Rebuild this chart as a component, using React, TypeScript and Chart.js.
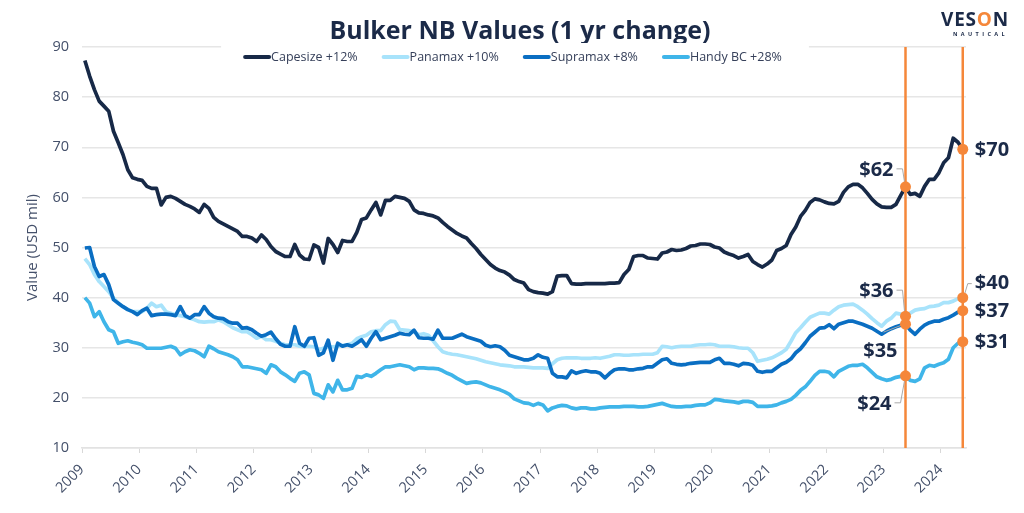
import React, { useEffect, useRef } from "react";
import { Chart, registerables } from "chart.js";

Chart.register(...registerables);

// ---------------- DATA ----------------
const years = [2009, 2010, 2011, 2012, 2013, 2014, 2015, 2016, 2017, 2018, 2019, 2020, 2021, 2022, 2023, 2024];

const seriesNames = ["Capesize +12%", "Panamax +10%", "Supramax +8%", "Handy BC +28%"];

// monthly values (USD mil), Jan 2009 .. May 2024
const capesize = [
  87.3, 84.2, 81.5, 79.2, 78.2, 77.2, 73.2, 70.9, 68.5, 65.5, 63.9, 63.6,
  63.4, 62.2, 61.8, 61.8, 58.5, 60.0, 60.2, 59.8, 59.2, 58.6, 58.2, 57.7,
  57.0, 58.6, 57.8, 56.0, 55.2, 54.7, 54.2, 53.7, 53.2, 52.2, 52.2, 51.9,
  51.2, 52.5, 51.6, 50.2, 49.2, 48.7, 48.2, 48.2, 50.6, 48.5, 47.7, 47.6,
  50.5, 50.0, 46.9, 51.8, 50.6, 49.0, 51.4, 51.2, 51.2, 53.0, 55.6, 55.9,
  57.5, 59.0, 56.5, 59.4, 59.4, 60.2, 60.0, 59.8, 59.2, 57.5, 56.9, 56.8,
  56.5, 56.3, 55.9, 55.0, 54.2, 53.5, 52.8, 52.3, 51.9, 50.8, 49.8, 48.6,
  47.6, 46.6, 45.9, 45.4, 45.1, 44.5, 43.6, 43.2, 42.9, 41.6, 41.2, 41.0,
  40.9, 40.7, 41.2, 44.3, 44.4, 44.4, 42.8, 42.7, 42.7, 42.8, 42.8, 42.8,
  42.8, 42.8, 42.9, 42.9, 43.0, 44.6, 45.6, 48.2, 48.4, 48.4, 47.9, 47.8,
  47.7, 48.9, 49.1, 49.6, 49.4, 49.5, 49.8, 50.3, 50.4, 50.7, 50.7, 50.6,
  50.1, 49.9, 49.1, 48.7, 48.4, 47.9, 48.2, 48.6, 47.2, 46.6, 46.1, 46.7,
  47.5, 49.4, 49.8, 50.4, 52.6, 54.1, 56.2, 57.4, 59.0, 59.7, 59.5, 59.1,
  58.8, 58.7, 59.2, 61.0, 62.1, 62.6, 62.6, 61.9, 60.8, 59.6, 58.7, 58.1,
  58.0, 58.0, 58.6, 60.4, 62.1, 60.6, 60.8, 60.2, 62.2, 63.6, 63.6, 64.9,
  66.9, 67.9, 71.8, 71.0, 69.6,
];

const panamax = [
  47.8, 46.6, 44.6, 43.2, 42.2, 41.2, 39.9, 38.9, 38.2, 37.6, 37.2, 37.2,
  37.2, 37.9, 38.9, 38.2, 38.5, 37.2, 36.9, 36.6, 36.4, 36.2, 35.9, 35.6,
  35.2, 35.1, 35.2, 35.2, 35.6, 35.2, 34.6, 34.0, 33.6, 33.2, 33.2, 32.6,
  31.9, 32.3, 31.6, 31.6, 31.3, 30.9, 30.6, 30.6, 30.6, 30.3, 30.2, 30.3,
  30.2, 29.6, 29.9, 30.2, 30.2, 30.3, 30.5, 30.6, 30.9, 31.8, 32.2, 32.5,
  33.2, 33.4, 33.4, 34.6, 35.3, 35.2, 33.6, 33.5, 33.4, 33.2, 32.6, 32.8,
  32.5, 31.4, 30.2, 29.2, 28.9, 28.7, 28.6, 28.4, 28.2, 28.0, 27.8, 27.5,
  27.2, 27.0, 26.8, 26.6, 26.5, 26.4, 26.2, 26.2, 26.2, 26.1, 26.0, 26.0,
  26.0, 25.9, 26.8, 27.6, 27.9, 28.0, 28.0, 28.0, 27.9, 27.9, 27.9, 28.0,
  27.9, 28.1, 28.3, 28.6, 28.6, 28.5, 28.5, 28.6, 28.6, 28.7, 28.7, 28.7,
  29.0, 30.3, 30.2, 30.0, 30.2, 30.3, 30.3, 30.3, 30.5, 30.6, 30.6, 30.7,
  30.6, 30.3, 30.3, 30.3, 30.2, 30.0, 29.9, 29.9, 29.0, 27.3, 27.5, 27.7,
  28.0, 28.5, 29.0, 29.7, 31.3, 33.0, 34.0, 35.1, 36.1, 36.5, 36.9, 36.9,
  36.7, 37.5, 38.2, 38.5, 38.6, 38.7, 38.2, 37.5, 36.7, 35.8, 35.0, 34.3,
  35.3, 35.9, 36.9, 36.7, 36.3, 36.9, 37.5, 37.7, 37.8, 38.2, 38.3, 38.5,
  39.0, 39.0, 39.3, 39.8, 40.0,
];

const supramax = [
  49.9, 50.0, 46.2, 44.2, 44.6, 42.6, 39.6, 38.9, 38.2, 37.6, 37.2, 36.6,
  37.4, 37.9, 36.4, 36.6, 36.7, 36.7, 36.6, 36.4, 38.2, 36.4, 35.9, 36.6,
  36.6, 38.2, 36.9, 36.2, 35.9, 35.8, 35.2, 34.9, 34.9, 33.9, 34.0, 33.6,
  32.9, 32.3, 32.6, 33.1, 31.8, 30.7, 30.3, 30.3, 34.2, 30.9, 30.3, 31.9,
  32.0, 28.5, 29.0, 31.5, 27.5, 30.9, 30.3, 30.6, 30.3, 30.9, 31.6, 30.3,
  31.9, 33.2, 31.6, 31.9, 32.2, 32.5, 32.9, 32.7, 32.6, 33.5, 32.0, 31.9,
  31.9, 31.7, 33.5, 31.9, 31.9, 31.9, 32.3, 32.7, 32.2, 31.9, 31.6, 31.3,
  30.5, 30.2, 30.4, 30.2, 29.5, 28.5, 28.2, 27.9, 27.6, 27.6, 27.9, 28.6,
  28.1, 27.9, 24.9, 24.2, 24.2, 24.0, 25.4, 24.9, 25.2, 25.4, 25.2, 25.2,
  24.9, 24.0, 24.9, 25.6, 25.8, 25.8, 25.6, 25.6, 25.8, 25.9, 26.2, 26.2,
  26.9, 27.6, 27.8, 26.9, 26.7, 26.6, 26.7, 26.9, 27.0, 27.1, 27.1, 27.1,
  27.6, 27.9, 26.9, 26.9, 26.7, 26.4, 26.9, 26.8, 26.5, 25.3, 25.1, 25.3,
  25.3, 26.0, 26.7, 27.1, 27.8, 29.0, 29.8, 31.0, 32.3, 33.1, 33.9, 34.0,
  34.6, 33.8, 34.7, 35.0, 35.3, 35.3, 35.0, 34.7, 34.3, 33.9, 33.3, 32.7,
  33.3, 33.8, 34.2, 34.5, 34.7, 33.5, 32.7, 33.7, 34.5, 35.0, 35.3, 35.3,
  35.7, 36.0, 36.5, 37.1, 37.4,
];

const handy = [
  40.0, 38.9, 36.2, 37.2, 35.2, 33.6, 33.2, 30.9, 31.2, 31.4, 31.1, 30.9,
  30.6, 29.9, 29.9, 29.9, 29.9, 30.1, 30.3, 29.9, 28.6, 29.2, 29.6, 29.4,
  28.9, 28.2, 30.3, 29.8, 29.2, 28.9, 28.6, 28.2, 27.6, 26.2, 26.2, 26.0,
  25.8, 25.6, 24.9, 26.6, 26.2, 25.2, 24.6, 23.9, 23.3, 24.9, 25.2, 24.6,
  20.9, 20.6, 19.9, 22.6, 21.2, 23.5, 21.6, 21.6, 21.9, 24.3, 24.1, 24.6,
  24.3, 24.9, 25.6, 26.2, 26.2, 26.4, 26.6, 26.4, 26.2, 25.6, 26.0, 26.0,
  25.9, 25.9, 25.8, 25.4, 24.9, 24.5, 23.9, 23.4, 22.9, 23.1, 23.2, 23.0,
  22.6, 22.2, 21.9, 21.6, 21.2, 20.7, 19.8, 19.4, 19.0, 18.9, 18.5, 18.9,
  18.6, 17.4, 18.0, 18.3, 18.5, 18.4, 18.0, 17.8, 18.0, 18.0, 17.8, 17.8,
  18.0, 18.1, 18.2, 18.2, 18.2, 18.3, 18.3, 18.3, 18.2, 18.2, 18.3, 18.5,
  18.7, 18.9, 18.6, 18.3, 18.2, 18.2, 18.3, 18.3, 18.5, 18.6, 18.6, 19.0,
  19.7, 19.6, 19.4, 19.3, 19.2, 19.0, 19.3, 19.3, 19.1, 18.3, 18.3, 18.3,
  18.4, 18.6, 19.0, 19.3, 19.7, 20.5, 21.5, 22.2, 23.3, 24.5, 25.3, 25.3,
  25.1, 24.2, 25.3, 25.8, 26.3, 26.5, 26.5, 26.7, 26.0, 25.1, 24.2, 23.8,
  23.5, 23.7, 24.1, 24.3, 24.4, 23.5, 23.3, 23.8, 26.0, 26.5, 26.3, 26.7,
  27.0, 27.7, 30.0, 30.9, 31.2,
];

// positions of the two "1 yr change" markers (May 2023, May 2024)
const markerIdx = [172, 184];

// date of each monthly observation (decimal year, ~20th of month)
const dates = capesize.map((_, i) => 2009 + (i + 0.6) / 12);

// ---------------- STYLE ----------------
const FONT = "'Open Sans', 'Noto Sans', sans-serif";
const NAVY = "#1b2a48";
const TICK = "#44506a";
const ORANGE = "#f5873a";
const colors = ["#172947", "#a8e3fb", "#0a6ec2", "#3fb5e9"];

const seriesList = [capesize, panamax, supramax, handy];

type LabelStyle = { align: CanvasTextAlign; dx: number; dy: number; leader?: number[][] };
// [marker][series]
const labelStyles: LabelStyle[][] = [
  [
    { align: "right", dx: -12, dy: -17, leader: [[-9, -18], [-3, -18], [-1, -5]] },
    { align: "right", dx: -12, dy: -25, leader: [[-9, -26], [-3, -26], [-1, -5]] },
    { align: "right", dx: -8, dy: 27, leader: [[-22, 8], [-4, 1]] },
    { align: "right", dx: -14, dy: 28, leader: [[-11, 27], [-5, 27], [-1, 5]] },
  ],
  [
    { align: "left", dx: 12, dy: 1 },
    { align: "left", dx: 12, dy: -14, leader: [[2, -4], [5, -14], [9, -14]] },
    { align: "left", dx: 12, dy: 1 },
    { align: "left", dx: 12, dy: 1 },
  ],
];

const decorPlugin = {
  id: "decor",
  afterDatasetsDraw(chart: any) {
    const { ctx, chartArea, scales } = chart;
    const xs = scales.x;
    const ys = scales.y;
    ctx.save();
    // vertical marker lines
    ctx.strokeStyle = ORANGE;
    ctx.lineWidth = 2.5;
    markerIdx.forEach((i) => {
      const px = xs.getPixelForValue(dates[i]);
      ctx.beginPath();
      ctx.moveTo(px, chartArea.top);
      ctx.lineTo(px, chartArea.bottom);
      ctx.stroke();
    });
    // leader lines + dots + labels
    markerIdx.forEach((i, m) => {
      const px = xs.getPixelForValue(dates[i]);
      seriesList.forEach((vals, s) => {
        const py = ys.getPixelForValue(vals[i]);
        const st = labelStyles[m][s];
        if (st.leader) {
          ctx.strokeStyle = "#a9a9a9";
          ctx.lineWidth = 1;
          ctx.beginPath();
          st.leader.forEach((p, k) => {
            if (k === 0) ctx.moveTo(px + p[0], py + p[1]);
            else ctx.lineTo(px + p[0], py + p[1]);
          });
          ctx.stroke();
        }
        ctx.fillStyle = ORANGE;
        ctx.beginPath();
        ctx.arc(px, py, 5.5, 0, Math.PI * 2);
        ctx.fill();
        ctx.fillStyle = NAVY;
        ctx.font = `bold 20px ${FONT}`;
        ctx.textAlign = st.align;
        ctx.textBaseline = "middle";
        ctx.fillText("$" + Math.round(vals[i]), px + st.dx, py + st.dy);
      });
    });
    ctx.restore();
  },
  afterDraw(chart: any) {
    const { ctx } = chart;
    ctx.save();
    // title
    ctx.font = `bold 23px ${FONT}`;
    const tw = ctx.measureText("Bulker NB Values (1 yr change)").width;
    const tsize = (23 * 381) / tw;
    ctx.font = `bold ${tsize.toFixed(2)}px ${FONT}`;
    ctx.fillStyle = NAVY;
    ctx.textAlign = "center";
    ctx.textBaseline = "alphabetic";
    ctx.fillText("Bulker NB Values (1 yr change)", 520, 39);

    // legend
    ctx.font = `12.5px ${FONT}`;
    const sample = 25;
    const gap = 25;
    const widths = seriesNames.map((n) => ctx.measureText(n).width);
    const total = widths.reduce((a, w) => a + sample + 2 + w, 0) + gap * (seriesNames.length - 1);
    let x = 513 - total / 2;
    const ly = 57;
    ctx.fillStyle = "#ffffff";
    ctx.fillRect(x - 23, 43, total + 50, 27);
    chart.data.datasets.forEach((ds: any, k: number) => {
      ctx.strokeStyle = ds.borderColor;
      ctx.lineWidth = 4;
      ctx.lineCap = "round";
      ctx.beginPath();
      ctx.moveTo(x + 1, ly);
      ctx.lineTo(x + sample, ly);
      ctx.stroke();
      ctx.fillStyle = "#36405a";
      ctx.textAlign = "left";
      ctx.textBaseline = "middle";
      ctx.fillText(ds.label, x + sample + 2, ly);
      x += sample + 2 + widths[k] + gap;
    });

    // logo
    ctx.font = `bold 19px ${FONT}`;
    ctx.textAlign = "left";
    ctx.textBaseline = "alphabetic";
    let lx = 941;
    "VESON".split("").forEach((c, k) => {
      ctx.fillStyle = k === 3 ? ORANGE : NAVY;
      ctx.fillText(c, lx, 26);
      lx += ctx.measureText(c).width + 0.8;
    });
    ctx.font = `bold 5.5px ${FONT}`;
    ctx.fillStyle = NAVY;
    let nx = 953;
    "NAUTICAL".split("").forEach((c) => {
      ctx.fillText(c, nx, 35.5);
      nx += ctx.measureText(c).width + 3.4;
    });
    ctx.restore();
  },
};

export default function App() {
  const ref = useRef<HTMLCanvasElement>(null);
  useEffect(() => {
    document.body.style.margin = "0";
    const canvas = ref.current;
    if (!canvas) return;
    const chart = new Chart(canvas, {
      type: "line",
      data: {
        datasets: seriesList.map((vals, k) => ({
          label: seriesNames[k],
          data: vals.map((v, i) => ({ x: dates[i], y: v })),
          borderColor: colors[k],
          backgroundColor: colors[k],
          borderWidth: 3.7,
          borderJoinStyle: "round" as const,
          pointRadius: 0,
          pointHoverRadius: 0,
          tension: 0,
          order: seriesList.length - k,
        })),
      },
      options: {
        animation: false,
        responsive: true,
        maintainAspectRatio: false,
        events: [],
        layout: { padding: { top: 47, right: 58, bottom: 0, left: 0 } },
        plugins: {
          legend: { display: false },
          title: { display: false },
          tooltip: { enabled: false },
        },
        scales: {
          x: {
            type: "linear",
            min: 2009,
            max: 2024.44,
            afterBuildTicks: (s: any) => {
              s.ticks = years.map((v) => ({ value: v }));
            },
            afterFit: (s: any) => {
              s.height = 65;
            },
            grid: { drawOnChartArea: false, drawTicks: true, tickLength: 5, color: "#d8d8d8", lineWidth: 1 },
            border: { display: true, color: "#e2e2e2", width: 1.5 },
            ticks: {
              autoSkip: false,
              maxRotation: 45,
              minRotation: 45,
              padding: 8,
              color: TICK,
              font: { family: FONT, size: 14.5 },
              callback: (v: any) => String(v),
            },
          },
          y: {
            min: 10,
            max: 90,
            afterFit: (s: any) => {
              s.width = 82;
            },
            ticks: { stepSize: 10, padding: 13, color: TICK, font: { family: FONT, size: 14.5 } },
            grid: { color: "#e6e6e6", lineWidth: 1.5, drawTicks: false },
            border: { display: false },
            title: {
              display: true,
              text: "Value (USD mil)",
              color: TICK,
              font: { family: FONT, size: 15 },
              padding: { top: 24, bottom: 0 },
            },
          },
        },
      },
      plugins: [decorPlugin],
    });
    return () => chart.destroy();
  }, []);
  return (
    <div style={{ width: 1024, height: 513, position: "relative", background: "#ffffff" }}>
      <canvas ref={ref} />
    </div>
  );
}
